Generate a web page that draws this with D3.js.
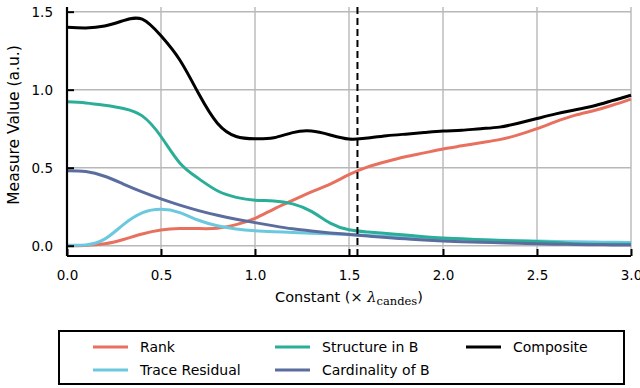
<!DOCTYPE html>
<html>
<head>
<meta charset="utf-8">
<script src="https://cdn.jsdelivr.net/npm/d3@7"></script>
<style>
  html, body { margin: 0; padding: 0; background: #fff; }
  svg { display: block; }
  text { font-family: "DejaVu Sans", sans-serif; fill: #000; }
</style>
</head>
<body>
<svg id="chart" width="640" height="388"></svg>
<script>
// Constant multiplier grid (× λ_candes)
const constants = d3.range(0, 31).map(i => i / 10);

const rank = [0.000, 0.002, 0.012, 0.040, 0.075, 0.100, 0.110, 0.110, 0.112, 0.135,
              0.175, 0.235, 0.290, 0.345, 0.395, 0.455, 0.505, 0.540, 0.570, 0.595,
              0.620, 0.640, 0.660, 0.680, 0.710, 0.750, 0.795, 0.835, 0.865, 0.900, 0.940];
const traceResidual = [0.003, 0.005, 0.042, 0.135, 0.210, 0.233, 0.212, 0.163, 0.128, 0.107,
              0.096, 0.090, 0.085, 0.080, 0.076, 0.072, 0.066, 0.060, 0.055, 0.050,
              0.045, 0.042, 0.038, 0.035, 0.032, 0.030, 0.027, 0.025, 0.023, 0.022, 0.020];
const structureB = [0.922, 0.915, 0.900, 0.880, 0.832, 0.700, 0.530, 0.430, 0.352, 0.310,
              0.292, 0.287, 0.268, 0.220, 0.145, 0.102, 0.088, 0.078, 0.068, 0.058,
              0.050, 0.044, 0.038, 0.034, 0.030, 0.027, 0.020, 0.013, 0.010, 0.010, 0.010];
const cardinalityB = [0.480, 0.475, 0.445, 0.395, 0.345, 0.300, 0.260, 0.225, 0.195, 0.170,
              0.148, 0.127, 0.108, 0.094, 0.082, 0.072, 0.062, 0.052, 0.044, 0.036,
              0.030, 0.026, 0.022, 0.019, 0.016, 0.013, 0.010, 0.008, 0.006, 0.005, 0.004];
const composite = [1.400, 1.396, 1.408, 1.443, 1.452, 1.345, 1.190, 0.975, 0.785, 0.700,
              0.685, 0.692, 0.725, 0.735, 0.710, 0.684, 0.690, 0.705, 0.715, 0.725,
              0.735, 0.740, 0.750, 0.760, 0.785, 0.815, 0.845, 0.870, 0.895, 0.930, 0.965];

const seriesNames  = ["Rank", "Trace Residual", "Structure in B", "Cardinality of B", "Composite"];
const seriesValues = [rank, traceResidual, structureB, cardinalityB, composite];
const seriesColors = ["#e8705e", "#6cc8df", "#2bae98", "#5a6d9e", "#000000"];

const xTicks = [0, 0.5, 1.0, 1.5, 2.0, 2.5, 3.0];
const yTicks = [0, 0.5, 1.0, 1.5];
const selectedConstant = 1.545;

const svg = d3.select("#chart");
const plot = { left: 67, right: 631, top: 7, bottom: 256 };

const x = d3.scaleLinear().domain([0, 3]).range([plot.left, plot.right]);
const y = d3.scaleLinear().domain([-0.066, 1.53]).range([plot.bottom, plot.top]);

// grid
const grid = svg.append("g");
grid.selectAll("line.gx").data(xTicks).join("line")
  .attr("x1", d => x(d)).attr("x2", d => x(d))
  .attr("y1", plot.top).attr("y2", plot.bottom)
  .attr("stroke", "#b8b8b8").attr("stroke-width", 1.4);
grid.selectAll("line.gy").data(yTicks).join("line")
  .attr("x1", plot.left).attr("x2", plot.right)
  .attr("y1", d => y(d)).attr("y2", d => y(d))
  .attr("stroke", "#b8b8b8").attr("stroke-width", 1.4);

// series
const line = d3.line()
  .x((d, i) => x(constants[i]))
  .y(d => y(d))
  .curve(d3.curveNatural);

svg.append("g").selectAll("path").data(seriesValues).join("path")
  .attr("d", d => line(d))
  .attr("fill", "none")
  .attr("stroke", (d, i) => seriesColors[i])
  .attr("stroke-width", 3)
  .attr("stroke-linejoin", "round")
  .attr("stroke-linecap", "butt");

// selected constant marker
svg.append("line")
  .attr("x1", x(selectedConstant)).attr("x2", x(selectedConstant))
  .attr("y1", plot.top).attr("y2", plot.bottom)
  .attr("stroke", "#000").attr("stroke-width", 2)
  .attr("stroke-dasharray", "7,4");

// axes (inward ticks)
const fmt = d3.format(".1f");
const xAxis = svg.append("g").attr("transform", `translate(0,${plot.bottom})`)
  .call(d3.axisBottom(x).tickValues(xTicks).tickFormat(fmt).tickSizeInner(-7).tickSizeOuter(0).tickPadding(14));
const yAxis = svg.append("g").attr("transform", `translate(${plot.left},0)`)
  .call(d3.axisLeft(y).tickValues(yTicks).tickFormat(fmt).tickSizeInner(-7).tickSizeOuter(0).tickPadding(14));

[xAxis, yAxis].forEach(a => {
  a.select(".domain").attr("stroke", "#000").attr("stroke-width", 2.2);
  a.selectAll(".tick line").attr("stroke", "#000").attr("stroke-width", 2);
  a.selectAll(".tick text").attr("font-family", "DejaVu Sans, sans-serif").attr("font-size", 13.5).attr("fill", "#000");
});
xAxis.select(".domain").attr("d", `M${plot.left},0H${plot.right}`);
yAxis.select(".domain").attr("d", `M0,${plot.top}V${plot.bottom}`);

// axis titles
const xl = svg.append("text")
  .attr("x", 349).attr("y", 302)
  .attr("text-anchor", "middle").attr("font-size", 14.5);
xl.append("tspan").text("Constant (×  ");
xl.append("tspan").attr("font-family", "DejaVu Serif, serif").attr("font-style", "italic").text("λ");
xl.append("tspan").attr("font-family", "DejaVu Serif, serif").attr("font-size", 11.5)
  .attr("dy", 3).text("candes");
xl.append("tspan").attr("dy", -3).text(")");

svg.append("text")
  .attr("transform", `translate(19,125) rotate(-90)`)
  .attr("text-anchor", "middle").attr("font-size", 15.5)
  .text("Measure Value (a.u.)");

// legend
const lg = svg.append("g");
lg.append("rect").attr("x", 59).attr("y", 331).attr("width", 565).attr("height", 53)
  .attr("fill", "#fff").attr("stroke", "#000").attr("stroke-width", 2);
const legendPos = [[93, 347], [93, 370], [275, 347], [275, 370], [466, 347]];
seriesNames.forEach((name, i) => {
  const [lx, ly] = legendPos[i];
  lg.append("line").attr("x1", lx).attr("x2", lx + 35).attr("y1", ly).attr("y2", ly)
    .attr("stroke", seriesColors[i]).attr("stroke-width", 3);
  lg.append("text").attr("x", lx + 47).attr("y", ly).attr("dy", "0.35em")
    .attr("font-size", 14).text(name);
});
</script>
</body>
</html>
